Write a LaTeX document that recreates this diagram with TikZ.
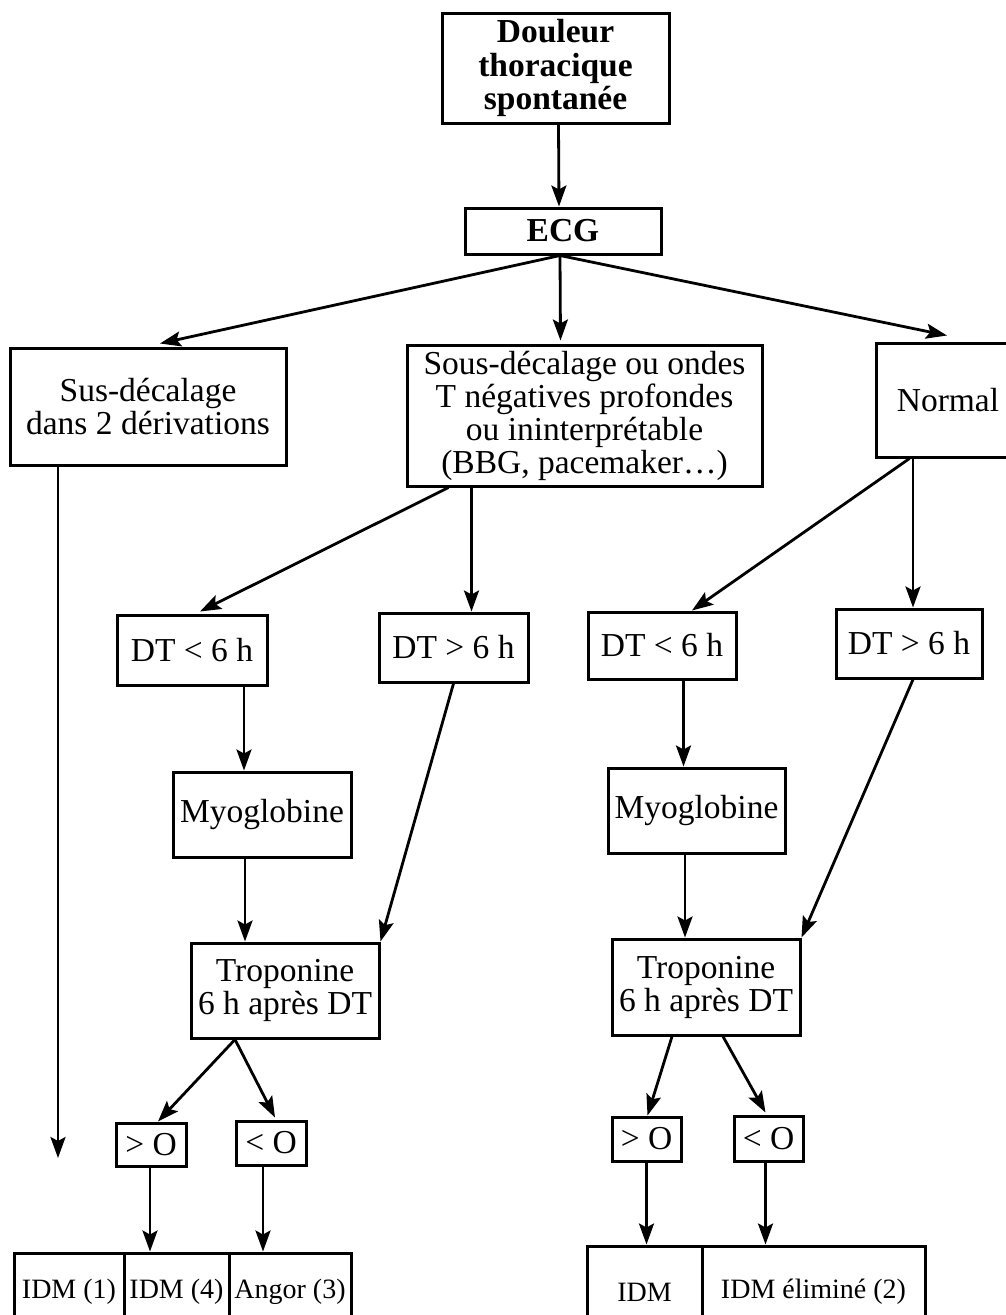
\documentclass[tikz,border=0pt]{standalone}
\usepackage{fontspec}
\setmainfont{Liberation Serif}
\usetikzlibrary{arrows.meta,calc}
\begin{document}
\begin{tikzpicture}[x=1pt,y=-1pt,
  box/.style={draw,line width=3pt,inner sep=0pt,align=center,font=\fontsize{33.5}{33}\selectfont},
  bbox/.style={box,font=\fontsize{33.5}{33.5}\selectfont\bfseries},
  cell/.style={box,font=\fontsize{28}{30}\selectfont},
  arr/.style={line width=2.8pt,-{Stealth[length=21pt,width=15pt,inset=4pt]}},
  ln/.style={line width=2.8pt}]
\useasboundingbox (0,0) rectangle (1006,1315);
\clip (0,0) rectangle (1006,1315);
\fill[white] (0,0) rectangle (1006,1315);

% top
\node[bbox,minimum width=227pt,minimum height=110pt] (top) at (555.5,68) {Douleur\\thoracique\\spontanée};
\node[bbox,minimum width=196pt,minimum height=46pt] (ecg) at (563,231) {ECG};

% level 2
\node[box,minimum width=276pt,minimum height=117pt] (sus) at (148,406.5) {Sus-décalage\\dans 2 dérivations};
\node[box,minimum width=355pt,minimum height=141pt] (sous) at (584.5,415.5) {Sous-décalage ou ondes\\T négatives profondes\\ou ininterprétable\\(BBG, pacemaker…)};
\node[box,minimum width=144pt,minimum height=114pt] (normal) at (948,400) {Normal};

% left branch
\node[box,minimum width=150pt,minimum height=70pt] (dtaL) at (192,650) {DT < 6 h};
\node[box,minimum width=149pt,minimum height=69pt] (dtbL) at (453.5,647.5) {DT > 6 h};
\node[box,minimum width=178pt,minimum height=85pt] (myoL) at (262,814.5) {Myoglobine};
\node[box,minimum width=188pt,minimum height=95pt] (troL) at (285,990.5) {Troponine\\6 h après DT};
\node[box,minimum width=70pt,minimum height=43pt] (gtL) at (151,1144.5) {> O};
\node[box,minimum width=70pt,minimum height=44pt] (ltL) at (271,1143) {< O};
\node[cell,minimum width=110pt,minimum height=77pt] (c1) at (69,1291.5) {IDM (1)};
\node[cell,minimum width=105pt,minimum height=77pt] (c2) at (176.5,1291.5) {IDM (4)};
\node[cell,minimum width=122pt,minimum height=77pt] (c3) at (290,1291.5) {Angor (3)};

% right branch
\node[box,minimum width=148pt,minimum height=67pt] (dtaR) at (662,645.5) {DT < 6 h};
\node[box,minimum width=146pt,minimum height=69pt] (dtbR) at (909,643.5) {DT > 6 h};
\node[box,minimum width=177pt,minimum height=85pt] (myoR) at (696.5,810.5) {Myoglobine};
\node[box,minimum width=188pt,minimum height=96pt] (troR) at (706,987) {Troponine\\6 h après DT};
\node[box,minimum width=69pt,minimum height=44pt] (gtR) at (646.5,1139) {> O};
\node[box,minimum width=69pt,minimum height=45pt] (ltR) at (768.5,1138.5) {< O};
\node[cell,minimum width=115pt,minimum height=92pt] (d1) at (644.5,1292) {IDM};
\node[cell,minimum width=223pt,minimum height=92pt] (d2) at (813.5,1292) {IDM éliminé (2)};

% connectors
\draw[arr] ($(top.south)+(3,0)$) -- ($(ecg.north)+(-4,0)$);
\coordinate (eo) at ($(ecg.south)+(-3,0)$);
\draw[arr] (eo) -- ($(sus.north)+(12,-3)$);
\draw[arr] (eo) -- ($(sous.north)+(-24,-3)$);
\draw[arr] (eo) -- ($(normal.north)+(-1,-6)$);

\coordinate (susend) at (58,1158);
\draw[arr] (sus.south -| susend) -- (susend);

\draw[arr] ($(sous.south west)+(43,0)$) -- ($(dtaL.north)+(8,-2)$);
\coordinate (sx) at ($(dtbL.north)+(18,0)$);
\draw[arr] (sous.south -| sx) -- (sx);
\coordinate (ax) at ($(myoL.north)+(-18,0)$);
\draw[arr] (dtaL.south -| ax) -- (ax);
\draw[arr] ($(dtbL.south)+(0,0)$) -- (troL.north east);
\coordinate (bx) at ($(troL.north)+(-40,0)$);
\draw[arr] (myoL.south -| bx) -- (bx);
\coordinate (to) at ($(troL.south)+(-50,0)$);
\draw[arr] (to) -- ($(gtL.north)+(7,0)$);
\draw[arr] (to) -- ($(ltL.north)+(4,-2)$);
\coordinate (g1) at ($(gtL.south)+(-1,0)$);
\draw[arr] (g1) -- (g1 |- c2.north);
\coordinate (g2) at ($(ltL.south)+(-8,0)$);
\draw[arr] (g2) -- (g2 |- c3.north);

\draw[arr] ($(normal.south west)+(35,0)$) -- ($(dtaR.north)+(30,0)$);
\coordinate (nx) at ($(dtbR.north)+(4,0)$);
\draw[arr] (normal.south -| nx) -- (nx);
\coordinate (cx) at ($(myoR.north)+(-13,0)$);
\draw[arr] (dtaR.south -| cx) -- (cx);
\draw[arr] ($(dtbR.south)+(4,0)$) -- (troR.north east);
\coordinate (dx) at ($(troR.north)+(-21,0)$);
\draw[arr] (myoR.south -| dx) -- (dx);
\draw[arr] ($(troR.south)+(-34,0)$) -- ($(gtR.north)+(1,0)$);
\draw[arr] ($(troR.south)+(17,0)$) -- ($(ltR.north)+(-3,-2)$);
\coordinate (h1) at ($(gtR.south)+(0,0)$);
\draw[arr] (h1) -- (h1 |- d1.north);
\coordinate (h2) at ($(ltR.south)+(-3,0)$);
\draw[arr] (h2) -- (h2 |- d2.north);
\end{tikzpicture}
\end{document}
